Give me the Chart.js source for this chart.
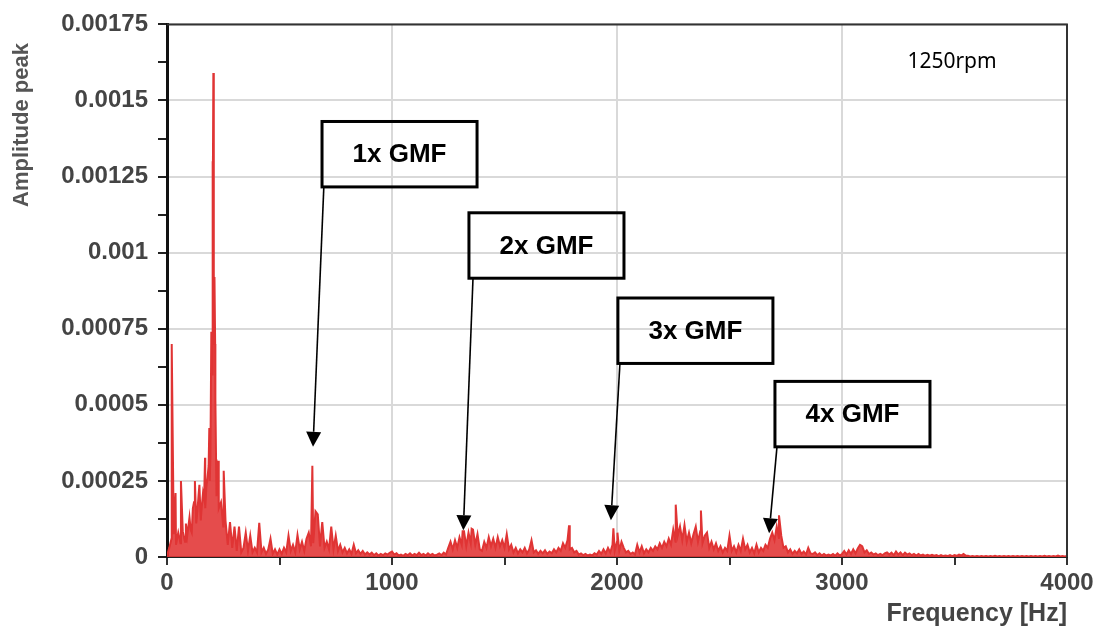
<!DOCTYPE html>
<html>
<head>
<meta charset="utf-8">
<script src="https://cdn.jsdelivr.net/npm/chart.js@4.4.1/dist/chart.umd.min.js"></script>
<style>
  html, body { margin: 0; padding: 0; background: #fff; }
  #wrap { width: 1104px; height: 633px; }
</style>
</head>
<body>
<div id="wrap"><canvas id="spectrumChart" width="1104" height="633"></canvas></div>
<script>
// Spectrum floor, one sample every 10 Hz from 0 to 4000 Hz (amplitude in 1e-6 units)
const floorStep = 10;
const floorAmp = [
    5, 30, 60, 75, 40, 80, 45, 85, 50, 70, 130, 80, 180, 110, 200, 120, 210, 160, 260, 250,   // 0-190
    600, 700, 200, 160, 180, 100, 120, 40, 115, 30, 100, 20, 100, 15, 30, 80, 20, 70, 15, 30, // 200-390
    15, 112, 15, 30, 10, 25, 60, 10, 25, 8, 25, 10, 30, 15, 70, 20, 40, 15, 72, 25,           // 400-590
    50, 20, 60, 80, 35, 45, 150, 140, 35, 115, 30, 50, 25, 100, 25, 70, 20, 40, 15, 30,       // 600-790
    12, 25, 10, 40, 12, 22, 10, 20, 8, 15, 8, 14, 6, 12, 5, 10, 6, 12, 8, 14,                 // 800-990
    18, 8, 12, 5, 8, 4, 10, 6, 12, 5, 10, 6, 14, 6, 10, 5, 12, 6, 10, 5,                      // 1000-1190
    8, 12, 6, 14, 8, 30, 50, 25, 55, 30, 65, 40, 85, 35, 80, 45, 90, 40, 75, 25,              // 1200-1390
    20, 50, 30, 65, 35, 60, 30, 65, 35, 55, 30, 75, 25, 40, 15, 30, 12, 25, 15, 30,           // 1400-1590
    12, 25, 55, 15, 22, 10, 20, 12, 22, 10, 18, 12, 25, 15, 30, 20, 45, 30, 55, 25,           // 1600-1790
    30, 15, 20, 8, 12, 6, 10, 5, 8, 5, 12, 8, 20, 10, 25, 12, 30, 15, 40, 20,                 // 1800-1990
    50, 20, 50, 30, 15, 20, 10, 15, 8, 40, 15, 35, 12, 25, 15, 30, 20, 35, 25, 45,            // 2000-2190
    30, 50, 35, 60, 40, 90, 50, 70, 100, 55, 105, 50, 80, 45, 75, 100, 50, 85, 45, 70,        // 2200-2390
    80, 30, 50, 25, 45, 20, 35, 15, 30, 20, 70, 20, 35, 15, 40, 20, 60, 25, 40, 15,           // 2400-2590
    30, 12, 40, 15, 30, 20, 40, 30, 60, 80, 55, 100, 60, 70, 30, 35, 15, 25, 10, 20,          // 2600-2790
    12, 25, 10, 18, 8, 30, 12, 10, 15, 6, 12, 5, 10, 5, 8, 5, 10, 4, 12, 5,                   // 2800-2990
    10, 20, 8, 22, 10, 25, 12, 28, 40, 35, 15, 22, 10, 15, 8, 12, 6, 10, 6, 12,               // 3000-3190
    15, 8, 14, 6, 18, 8, 15, 6, 14, 8, 12, 6, 10, 5, 10, 5, 8, 4, 7, 4,                       // 3200-3390
    7, 4, 6, 3, 6, 3, 5, 3, 6, 3, 6, 4, 8, 5, 10, 5, 4, 2, 3, 2,                              // 3400-3590
    3, 2, 3, 2, 3, 2, 3, 2, 4, 2, 3, 2, 3, 2, 3, 2, 3, 2, 3, 2,                               // 3600-3790
    3, 2, 3, 2, 3, 2, 3, 2, 3, 2, 4, 2, 3, 2, 3, 2, 5, 2, 3, 2,                               // 3800-3990
    3                                                                                          // 4000
];

// Narrow peaks lying between the 10 Hz samples
const spikeFreq = [21, 38, 62, 84, 105, 115, 124, 135, 144, 155, 165, 169, 175, 185, 188, 193,
    197, 199, 202, 204, 206, 208, 210, 212, 214, 215, 218, 228, 252,
    646, 1314, 1354, 1787, 1984, 2002, 2261, 2373, 2720, 3087];
const spikeAmp = [700, 210, 250, 110, 90, 160, 250, 150, 237, 170, 190, 326, 230, 300, 424, 330,
    740, 600, 1300, 1100, 1590, 930, 860, 920, 700, 520, 320, 316, 283,
    300, 85, 93, 104, 94, 80, 172, 153, 137, 37];

const xTickLabels = ['0', '1000', '2000', '3000', '4000'];
const yTickLabels = ['0', '0.00025', '0.0005', '0.00075', '0.001', '0.00125', '0.0015', '0.00175'];

// GMF call-outs
const gmfLabels = ['1x GMF', '2x GMF', '3x GMF', '4x GMF'];
const boxLeftHz = [689, 1342, 2004, 2702];
const boxTopAmp = [0.001431, 0.001131, 0.000851, 0.000577];
const boxWidthHz = 689;
const boxHeightAmp = 0.000215;
const arrowFromHz = [697, 1360, 2013, 2711];
const arrowTipHz = [649, 1317, 1973, 2676];
const arrowTipAmp = [0.000362, 0.000088, 0.000121, 0.000078];

const speedLabel = '1250rpm';

// Merge floor and peaks into one sorted trace
const points = floorAmp.map((a, i) => ({ x: i * floorStep, y: a * 1e-6 }));
spikeFreq.forEach((f, i) => points.push({ x: f, y: spikeAmp[i] * 1e-6 }));
points.sort((a, b) => a.x - b.x);

const labelFont = '"Liberation Sans", Arial, sans-serif';

const annotatePlugin = {
    id: 'annotate',
    afterDraw(chart) {
        const { ctx, chartArea: area, scales: { x, y } } = chart;
        ctx.save();

        // top and right frame
        ctx.strokeStyle = '#333';
        ctx.lineWidth = 2;
        ctx.beginPath();
        ctx.moveTo(area.left, area.top);
        ctx.lineTo(area.right, area.top);
        ctx.lineTo(area.right, area.bottom);
        ctx.stroke();

        // boxes + arrows
        gmfLabels.forEach((label, i) => {
            const l = x.getPixelForValue(boxLeftHz[i]);
            const r = x.getPixelForValue(boxLeftHz[i] + boxWidthHz);
            const t = y.getPixelForValue(boxTopAmp[i]);
            const b = y.getPixelForValue(boxTopAmp[i] - boxHeightAmp);
            ctx.strokeStyle = '#000';
            ctx.fillStyle = '#000';
            ctx.lineWidth = 3;
            ctx.strokeRect(l, t, r - l, b - t);
            ctx.font = 'bold 26px ' + labelFont;
            ctx.textAlign = 'center';
            ctx.textBaseline = 'middle';
            ctx.fillText(label, (l + r) / 2, (t + b) / 2 + 1);

            const sx = x.getPixelForValue(arrowFromHz[i]), sy = b;
            const tx = x.getPixelForValue(arrowTipHz[i]), ty = y.getPixelForValue(arrowTipAmp[i]);
            const ang = Math.atan2(ty - sy, tx - sx);
            const headLen = 15, headHalf = 7.5;
            const bx = tx - headLen * Math.cos(ang), by = ty - headLen * Math.sin(ang);
            ctx.lineWidth = 1.6;
            ctx.beginPath();
            ctx.moveTo(sx, sy);
            ctx.lineTo(bx, by);
            ctx.stroke();
            ctx.beginPath();
            ctx.moveTo(tx, ty);
            ctx.lineTo(bx + headHalf * Math.sin(ang), by - headHalf * Math.cos(ang));
            ctx.lineTo(bx - headHalf * Math.sin(ang), by + headHalf * Math.cos(ang));
            ctx.closePath();
            ctx.fill();
        });

        // speed note
        ctx.font = '21px "Noto Sans", sans-serif';
        ctx.textAlign = 'center';
        ctx.textBaseline = 'middle';
        ctx.fillText(speedLabel, x.getPixelForValue(3489), y.getPixelForValue(0.001626));

        // y axis title
        ctx.translate(22, 125);
        ctx.rotate(-Math.PI / 2);
        ctx.fillStyle = '#555';
        ctx.font = 'bold 22px ' + labelFont;
        ctx.fillText('Amplitude peak', 0, 0);
        ctx.restore();
    }
};

const yStep = 0.000125;

new Chart(document.getElementById('spectrumChart').getContext('2d'), {
    type: 'line',
    data: {
        datasets: [{
            data: points,
            borderColor: '#e03434',
            backgroundColor: 'rgba(226, 56, 56, 0.9)',
            borderWidth: 2,
            pointRadius: 0,
            tension: 0,
            fill: 'origin'
        }]
    },
    options: {
        responsive: false,
        animation: false,
        devicePixelRatio: 1,
        layout: { padding: { top: 20, right: 37, left: 0, bottom: 0 } },
        plugins: { legend: { display: false }, tooltip: { enabled: false } },
        scales: {
            x: {
                type: 'linear', min: 0, max: 4000,
                afterFit: s => { s.height = 76; },
                ticks: {
                    stepSize: 500, autoSkip: false, maxRotation: 0, padding: 4,
                    color: '#444', font: { family: labelFont, size: 24, weight: 'bold' },
                    callback: v => (v % 1000 === 0 ? xTickLabels[v / 1000] : '')
                },
                grid: {
                    color: c => (c.tick && c.tick.value % 1000 === 0 ? '#d9d9d9' : 'rgba(0,0,0,0)'),
                    lineWidth: 2, tickLength: 8, tickColor: '#333', tickWidth: 2
                },
                border: { color: '#222', width: 2 },
                title: {
                    display: true, text: 'Frequency [Hz]', align: 'end', color: '#444',
                    font: { family: labelFont, size: 25, weight: 'bold' }, padding: { top: 0, bottom: 4 }
                }
            },
            y: {
                min: 0, max: 0.00175,
                afterFit: s => { s.width = 167; },
                ticks: {
                    stepSize: yStep, autoSkip: false, padding: 10,
                    color: '#444', font: { family: labelFont, size: 24, weight: 'bold' },
                    callback: v => {
                        const k = Math.round(v / yStep);
                        return k % 2 === 0 ? yTickLabels[k / 2] : '';
                    }
                },
                grid: {
                    color: c => (c.tick && Math.round(c.tick.value / yStep) % 2 === 0 ? '#d9d9d9' : 'rgba(0,0,0,0)'),
                    lineWidth: 2, tickLength: 9, tickColor: '#222', tickWidth: 2
                },
                border: { color: '#111', width: 3 }
            }
        }
    },
    plugins: [annotatePlugin]
});
</script>
</body>
</html>
